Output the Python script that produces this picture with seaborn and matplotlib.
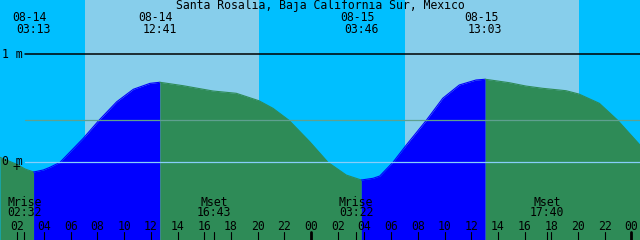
import matplotlib
matplotlib.use("Agg")
import matplotlib.pyplot as plt
import matplotlib.transforms as mtransforms
import seaborn as sns
import numpy as np
import pandas as pd

# ---------------- data ----------------
title = "Santa Rosalia, Baja California Sur, Mexico"

# tide height (m) vs hours since 08-14 00:00
tide_t = [0.70, 1.96, 2.58, 3.22, 3.95, 4.45, 5.20, 6.94, 8.12, 9.45, 10.69, 11.94,
          12.68, 14.43, 16.66, 18.40, 20.10, 21.15, 22.35, 23.90, 25.27, 26.64,
          27.15, 27.77, 28.65, 29.15, 30.14, 31.14, 32.64, 33.87, 35.11, 36.36,
          37.05, 38.85, 40.10, 41.36, 43.10, 44.07, 45.60, 46.97, 48.64]
tide_h = [0.046, -0.019, -0.062, -0.090, -0.071, -0.046, 0.000, 0.222, 0.389, 0.561,
          0.676, 0.731, 0.741, 0.709, 0.660, 0.639, 0.570, 0.500, 0.389, 0.191,
          0.000, -0.118, -0.139, -0.164, -0.148, -0.127, 0.000, 0.160, 0.389,
          0.593, 0.716, 0.762, 0.769, 0.737, 0.706, 0.685, 0.663, 0.632, 0.546,
          0.389, 0.160]

# high / low tide events
event_t = [3.217, 12.683, 27.767, 37.050]
event_date = ["08-14", "08-14", "08-15", "08-15"]
event_time = ["03:13", "12:41", "03:46", "13:03"]

# daylight
sunrise = [7.07, 31.04]
sunset = [20.10, 44.07]

# moon events
moon_t = [2.533, 16.717, 27.367, 41.667]
moon_name = ["Mrise", "Mset", "Mrise", "Mset"]
moon_time = ["02:32", "16:43", "03:22", "17:40"]

# hour ticks
hour_ticks = list(range(2, 49, 2))
hour_labels = ["%02d" % (h % 24) for h in hour_ticks]

ref_levels = [1.0, 0.389, 0.0]
ref_colors = ["black", "#5fa08f", "#87cefa"]

# ---------------- style ----------------
NIGHT = "#00BFFF"
DAY = "#87CEEB"
RISE = "#0000FF"
FALL = "#2E8B57"

sns.set_theme(style="white")
plt.rcParams["font.family"] = ["DejaVu Sans Mono", "DejaVu Sans"]
FS = 8.3

W, H = 640, 240
PPH = 13.35          # pixels per hour
t0 = 9.4 / PPH
t1 = t0 + W / PPH
M_PX = 108.0         # pixels per metre
y_zero_px = 162.3
ylo = (y_zero_px - H) / M_PX
yhi = y_zero_px / M_PX

fig = plt.figure(figsize=(6.4, 2.4), dpi=100)
ax = fig.add_axes([0, 0, 1, 1])
ax.set_xlim(t0, t1)
ax.set_ylim(ylo, yhi)
ax.axis("off")
fig.patch.set_facecolor(NIGHT)

# day/night background
ax.axvspan(t0, t1, color=NIGHT, lw=0, zorder=0)
for a, b in zip(sunrise, sunset):
    ax.axvspan(a, b, color=DAY, lw=0, zorder=0.5)

# tide fill, colored by rising/falling; split at the data point nearest each event
df = pd.DataFrame({"t": tide_t, "h": tide_h})
tarr = np.asarray(tide_t)
split_idx = [0] + [int(np.argmin(np.abs(tarr - e))) for e in event_t] + [len(tarr) - 1]
for i0, i1 in zip(split_idx[:-1], split_idx[1:]):
    seg = df.iloc[i0:i1 + 1]
    if len(seg) < 2:
        continue
    col = RISE if seg.h.iloc[-1] > seg.h.iloc[0] else FALL
    ax.fill_between(seg.t, seg.h, ylo, color=col, lw=0, zorder=1)
    sns.lineplot(data=seg, x="t", y="h", color=col, lw=0.8, ax=ax,
                 zorder=1.1, legend=False, sort=False)

# reference lines
for lvl, c in zip(ref_levels, ref_colors):
    ax.axhline(lvl, xmin=25 / W, xmax=1, color=c, lw=1.1 if c == "black" else 0.9,
               zorder=2)

blend = mtransforms.blended_transform_factory(ax.transData, ax.transAxes)


def ypx(p):
    return 1 - p / H


# title
ax.text(0.5, ypx(6), title, transform=ax.transAxes, ha="center", va="center",
        fontsize=FS, color="black", zorder=5)

# tide event labels
for t, d, tm in zip(event_t, event_date, event_time):
    ax.text(t - 4 / PPH, ypx(17.5), d, transform=blend, ha="center", va="center",
            fontsize=FS, color="black", zorder=5)
    ax.text(t, ypx(29.5), tm, transform=blend, ha="center", va="center",
            fontsize=FS, color="black", zorder=5)

# level labels
ax.text(2 / W, ypx(54), "1 m", transform=ax.transAxes, ha="left", va="center",
        fontsize=FS, color="black", zorder=5)
ax.text(2 / W, ypx(161.5), "0 m", transform=ax.transAxes, ha="left", va="center",
        fontsize=FS, color="black", zorder=5)
ax.text(16 / W, ypx(167), "+", transform=ax.transAxes, ha="center", va="center",
        fontsize=FS + 1, color="black", zorder=5)

# moon labels and ticks
for t, n, tm in zip(moon_t, moon_name, moon_time):
    ax.text(t, ypx(202.5), n, transform=blend, ha="center", va="center",
            fontsize=FS, color="black", zorder=5)
    ax.text(t, ypx(212.5), tm, transform=blend, ha="center", va="center",
            fontsize=FS, color="black", zorder=5)
    ax.axvline(t, ymin=0, ymax=8 / H, color="black", lw=0.8, zorder=5)

# hour ticks
for t, lab in zip(hour_ticks, hour_labels):
    ax.text(t, ypx(226), lab, transform=blend, ha="center", va="center",
            fontsize=FS, color="black", zorder=5)
    lw = 2.0 if t % 24 == 0 else 0.8
    ax.axvline(t, ymin=0, ymax=8 / H, color="black", lw=lw, zorder=5)

fig.savefig("out.png", dpi=100, facecolor=fig.get_facecolor())
